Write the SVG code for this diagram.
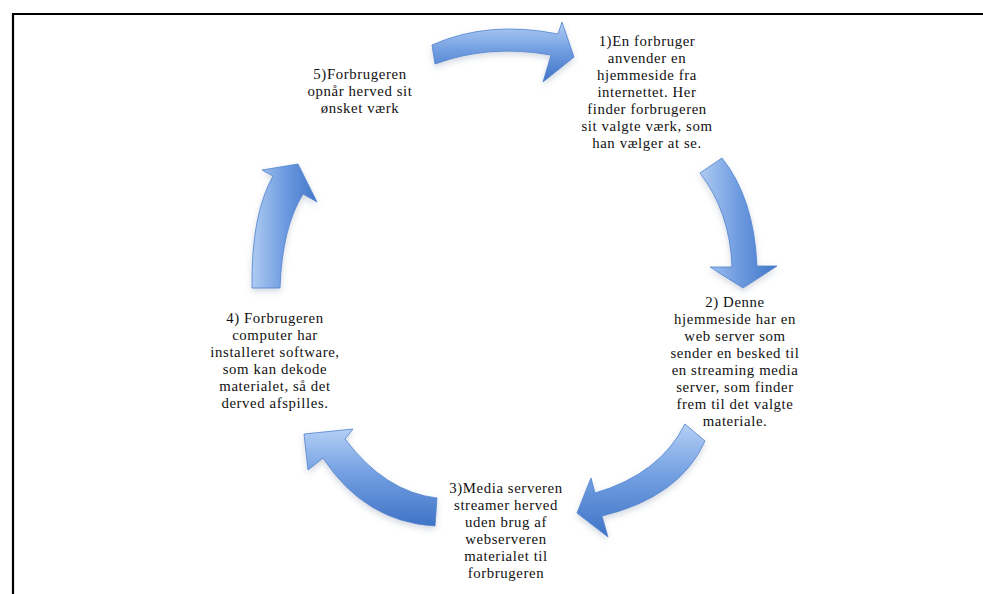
<svg xmlns="http://www.w3.org/2000/svg" width="983" height="594" viewBox="0 0 983 594">
<defs>
<linearGradient id="g" x1="0" y1="0" x2="0" y2="1">
<stop offset="0" stop-color="#b3cff4"/>
<stop offset="0.45" stop-color="#74a0e2"/>
<stop offset="1" stop-color="#3f73c6"/>
</linearGradient>
<linearGradient id="gh" x1="0" y1="0" x2="1" y2="0">
<stop offset="0" stop-color="#aecbf2"/>
<stop offset="0.5" stop-color="#6e9be0"/>
<stop offset="1" stop-color="#4277c9"/>
</linearGradient>
<filter id="sh" x="-20%" y="-20%" width="140%" height="150%">
<feDropShadow dx="0" dy="3" stdDeviation="3" flood-color="#6a7f99" flood-opacity="0.3"/>
</filter>
</defs>
<style>
.arrow{fill:url(#g);stroke:#5283cf;stroke-width:0.8;stroke-linejoin:round;filter:url(#sh)}
.arrowv{fill:url(#gh);stroke:#5283cf;stroke-width:0.8;stroke-linejoin:round;filter:url(#sh)}
text{font-family:"Liberation Serif","Times New Roman",serif;font-size:14.8px;letter-spacing:0.6px;fill:#111;text-anchor:middle}
</style>
<rect width="983" height="594" fill="#fff"/>
<path d="M13,594 V14 H983" fill="none" stroke="#000" stroke-width="2.2"/>
<g id="connectors">
<path class="arrow" d="M432,45 Q488,20 558,34 L562,22 L574,57 L543,82 L551,55 Q488,44 435,64 Z"/>
<path class="arrowv" d="M700,173 L722,158 Q754,198 757,266 L777,266 L743,288 L710,267 L732,267 Q730,212 700,173 Z"/>
<path class="arrow" d="M685,424 L705,441 Q680,497 602,516 L608,537 L577,513 L591,478 L595,493 Q660,474 685,424 Z"/>
<path class="arrow" d="M437,498 L435,526 Q365,522 323,458 L308,470 L304,434 L353,429 L345,439 Q385,492 437,498 Z"/>
<path class="arrowv" d="M252,288 Q251,215 273,176 L262,170 L298,164 L317,202 L303,194 Q282,228 280,288 Z"/>
</g>
<g id="node1">
<text x="647" y="46">1)En forbruger</text>
<text x="647" y="63">anvender en</text>
<text x="647" y="80">hjemmeside fra</text>
<text x="647" y="97">internettet. Her</text>
<text x="647" y="114">finder forbrugeren</text>
<text x="647" y="131">sit valgte værk, som</text>
<text x="647" y="148">han vælger at se.</text>
</g>
<g id="node2">
<text x="735" y="307">2) Denne</text>
<text x="735" y="324">hjemmeside har en</text>
<text x="735" y="341">web server som</text>
<text x="735" y="358">sender en besked til</text>
<text x="735" y="375">en streaming media</text>
<text x="735" y="392">server, som finder</text>
<text x="735" y="409">frem til det valgte</text>
<text x="735" y="426">materiale.</text>
</g>
<g id="node3">
<text x="506" y="493">3)Media serveren</text>
<text x="506" y="510">streamer herved</text>
<text x="506" y="527">uden brug af</text>
<text x="506" y="544">webserveren</text>
<text x="506" y="561">materialet til</text>
<text x="506" y="578">forbrugeren</text>
</g>
<g id="node4">
<text x="275" y="323">4) Forbrugeren</text>
<text x="275" y="340">computer har</text>
<text x="275" y="357">installeret software,</text>
<text x="275" y="374">som kan dekode</text>
<text x="275" y="391">materialet, så det</text>
<text x="275" y="408">derved afspilles.</text>
</g>
<g id="node5">
<text x="360" y="79">5)Forbrugeren</text>
<text x="360" y="96">opnår herved sit</text>
<text x="360" y="113">ønsket værk</text>
</g>
</svg>
